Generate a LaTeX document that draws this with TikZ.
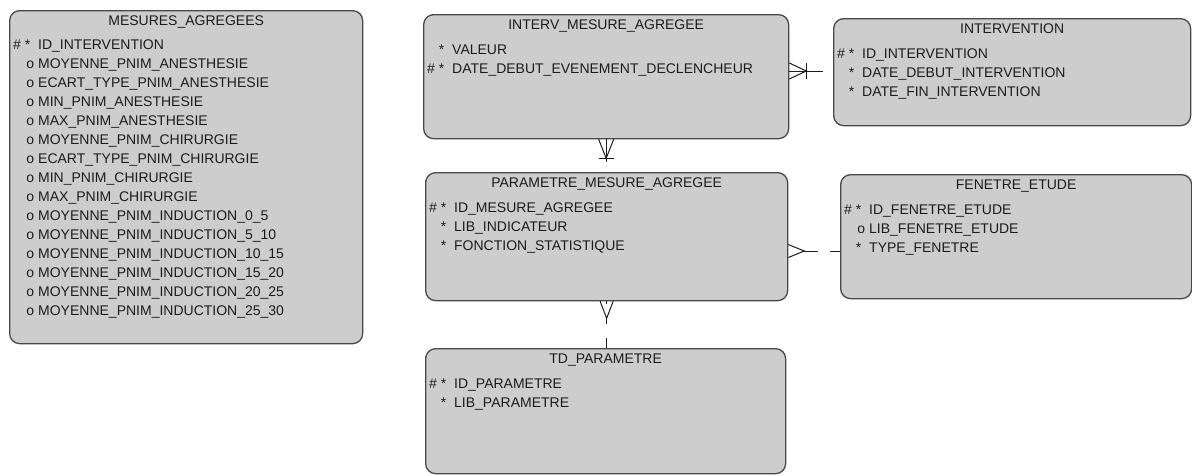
\documentclass[tikz,border=0pt]{standalone}
\usepackage{fontspec}
\setmainfont{Liberation Sans}
\usetikzlibrary{calc, positioning}
\definecolor{boxfill}{RGB}{205,205,205}
\definecolor{boxline}{RGB}{72,72,72}
\definecolor{inkgray}{RGB}{28,28,28}

\newcommand{\pkmark}{\#\ *\ }
\newcommand{\reqmark}{*\ }
\newcommand{\optmark}{o}
\newcommand{\erfont}{\fontsize{14}{17}\selectfont}

\tikzset{
  entity/.style={draw=boxline, fill=boxfill, line width=1.3pt, rounded corners=10pt, anchor=north west, inner sep=0pt},
  title/.style={font=\erfont, text=inkgray, anchor=base, inner sep=0pt},
  attr/.style={font=\erfont, text=inkgray, anchor=base west, inner sep=0pt},
  rel/.style={draw=inkgray, line width=1pt}
}

% attribute rows of one entity
\newcommand{\attrlist}[3]{%
  \foreach \p/\n [count=\i] in {#3} {
    \node[attr] (#1-a\i) at ($(#1.north west)+(5,{#2+19*(\i-1)})$) {\makebox[20pt][r]{\p}\hspace{4pt}\n};
  }}

\begin{document}
\begin{tikzpicture}[x=1pt, y=-1pt]
    \useasboundingbox (0,0) rectangle (1192,475);

    % Entities
    \node[entity, minimum width=353pt, minimum height=333pt] (mes) at (9,10) {};
    \node[title] (mes-title) at ($(mes.north)+(0,15)$) {MESURES\_AGREGEES};
    \attrlist{mes}{39}{\pkmark/ID\_INTERVENTION, \optmark/MOYENNE\_PNIM\_ANESTHESIE,
      \optmark/ECART\_TYPE\_PNIM\_ANESTHESIE, \optmark/MIN\_PNIM\_ANESTHESIE,
      \optmark/MAX\_PNIM\_ANESTHESIE, \optmark/MOYENNE\_PNIM\_CHIRURGIE,
      \optmark/ECART\_TYPE\_PNIM\_CHIRURGIE, \optmark/MIN\_PNIM\_CHIRURGIE,
      \optmark/MAX\_PNIM\_CHIRURGIE, \optmark/MOYENNE\_PNIM\_INDUCTION\_0\_5,
      \optmark/MOYENNE\_PNIM\_INDUCTION\_5\_10, \optmark/MOYENNE\_PNIM\_INDUCTION\_10\_15,
      \optmark/MOYENNE\_PNIM\_INDUCTION\_15\_20, \optmark/MOYENNE\_PNIM\_INDUCTION\_20\_25,
      \optmark/MOYENNE\_PNIM\_INDUCTION\_25\_30}

    \node[entity, minimum width=365pt, minimum height=124pt] (ima) at (423,14) {};
    \node[title] (ima-title) at ($(ima.north)+(0,15)$) {INTERV\_MESURE\_AGREGEE};
    \attrlist{ima}{40}{\reqmark/VALEUR, \pkmark/DATE\_DEBUT\_EVENEMENT\_DECLENCHEUR}

    \node[entity, minimum width=357pt, minimum height=107pt] (itv) at (833,18) {};
    \node[title] (itv-title) at ($(itv.north)+(0,15)$) {INTERVENTION};
    \attrlist{itv}{40}{\pkmark/ID\_INTERVENTION, \reqmark/DATE\_DEBUT\_INTERVENTION,
      \reqmark/DATE\_FIN\_INTERVENTION}

    \node[entity, minimum width=362pt, minimum height=128pt] (pma) at (425,172) {};
    \node[title] (pma-title) at ($(pma.north)+(0,15)$) {PARAMETRE\_MESURE\_AGREGEE};
    \attrlist{pma}{40}{\pkmark/ID\_MESURE\_AGREGEE, \reqmark/LIB\_INDICATEUR,
      \reqmark/FONCTION\_STATISTIQUE}

    \node[entity, minimum width=351pt, minimum height=124pt] (fen) at (840,174) {};
    \node[title] (fen-title) at ($(fen.north)+(0,15)$) {FENETRE\_ETUDE};
    \attrlist{fen}{40}{\pkmark/ID\_FENETRE\_ETUDE, \optmark/LIB\_FENETRE\_ETUDE,
      \reqmark/TYPE\_FENETRE}

    \node[entity, minimum width=360pt, minimum height=125pt] (tdp) at (425,348) {};
    \node[title] (tdp-title) at ($(tdp.north)+(0,15)$) {TD\_PARAMETRE};
    \attrlist{tdp}{40}{\pkmark/ID\_PARAMETRE, \reqmark/LIB\_PARAMETRE}

    % INTERV_MESURE_AGREGEE -- INTERVENTION
    \coordinate (c1) at (ima.east |- 0,71);
    \draw[rel, shorten >=10pt] (c1) -- (itv.west |- c1);
    \draw[rel] ([yshift=8pt]c1) -- ++(17,8) -- ++(-17,8);
    \draw[rel] ([xshift=17pt, yshift=8pt]c1) -- ++(0,16);

    % INTERV_MESURE_AGREGEE -- PARAMETRE_MESURE_AGREGEE
    \draw[rel, shorten >=10pt] (ima.south) -- (ima.south |- pma.north);
    \draw[rel] ([xshift=-7.5pt]ima.south) -- ++(7.5,19) -- ++(7.5,-19);
    \draw[rel] ([xshift=-7.5pt, yshift=-19pt]ima.south) -- ++(15,0);

    % PARAMETRE_MESURE_AGREGEE -- FENETRE_ETUDE
    \coordinate (c3) at (pma.east |- 0,251);
    \draw[rel] ([yshift=6.5pt]c3) -- ++(16,6.5) -- ++(-16,6.5);
    \draw[rel, dash pattern=on 14pt off 12pt on 20pt] ([xshift=16pt]c3) -- (fen.west |- c3);

    % PARAMETRE_MESURE_AGREGEE -- TD_PARAMETRE
    \draw[rel] ([xshift=-6.5pt]pma.south) -- ++(6.5,17) -- ++(6.5,-17);
    \draw[rel] (pma.south) -- ++(0,3);
    \draw[rel, dash pattern=on 6pt off 14pt on 20pt] ([yshift=-17pt]pma.south) -- (pma.south |- tdp.north);
\end{tikzpicture}
\end{document}
